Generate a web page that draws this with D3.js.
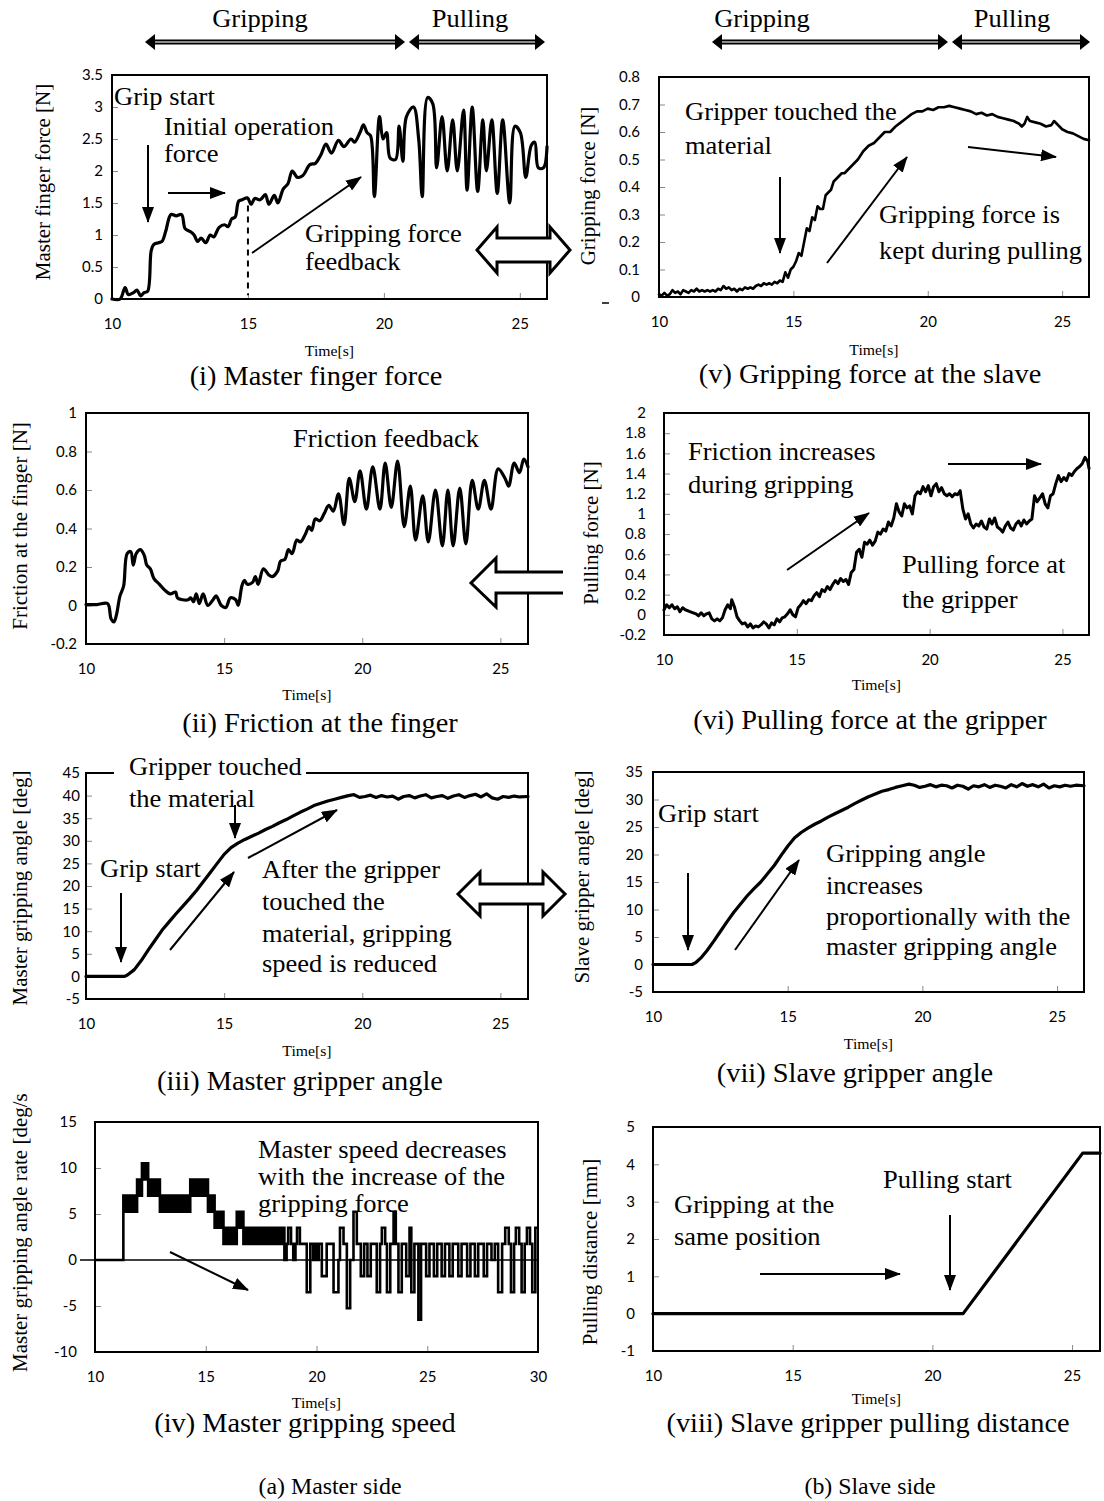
<!DOCTYPE html>
<html>
<head>
<meta charset="utf-8">
<script src="https://cdn.jsdelivr.net/npm/d3@7"></script>
<style>
  body { margin: 0; background: #fff; }
</style>
</head>
<body>
<svg id="fig" width="1104" height="1501"></svg>
<script>
// ---- data: [time s, value] ----
var fingerForce = [[10,0],[10.3,0],[10.48,0.18],[10.6,0.07],[10.79,0.1],[10.92,0.14],[11.05,0.05],[11.18,0.1],[11.31,0.12],[11.44,0.75],[11.53,0.85],[11.71,0.88],[11.84,0.9],[11.97,1.05],[12.17,1.32],[12.36,1.3],[12.56,1.32],[12.69,1.1],[12.89,1.05],[13.02,1.0],[13.15,0.9],[13.28,0.95],[13.45,0.88],[13.61,1.0],[13.74,0.97],[13.94,1.12],[14.14,1.16],[14.27,1.13],[14.4,1.25],[14.53,1.28],[14.66,1.53],[14.79,1.55],[14.98,1.58],[15.12,1.48],[15.25,1.57],[15.45,1.55],[15.64,1.63],[15.77,1.48],[15.97,1.62],[16.1,1.5],[16.3,1.72],[16.47,1.8],[16.63,2.0],[16.82,1.9],[17.02,1.93],[17.28,2.1],[17.48,2.12],[17.68,2.25],[17.87,2.42],[18.07,2.28],[18.33,2.48],[18.53,2.38],[18.79,2.5],[18.92,2.45],[19.12,2.6],[19.25,2.72],[19.38,2.6],[19.51,2.55],[19.65,1.6],[19.84,2.85],[19.97,2.5],[20.1,2.6],[20.23,2.2],[20.43,2.18],[20.56,2.7],[20.7,2.15],[20.83,2.85],[21.09,3.0],[21.28,2.5],[21.41,1.6],[21.61,3.15],[21.8,3.05],[21.94,2.05],[22.14,2.85],[22.33,2.0],[22.53,2.8],[22.7,2.0],[22.93,2.95],[23.06,1.7],[23.25,3.0],[23.45,1.68],[23.64,2.8],[23.77,2.0],[23.97,2.8],[24.17,1.65],[24.37,2.8],[24.63,1.5],[24.82,2.7],[25.02,2.6],[25.22,1.9],[25.42,2.4],[25.55,2.45],[25.68,2.05],[25.87,2.05],[26.0,2.38]];

var fingerFriction = [[10,0.005],[10.4,0.005],[10.78,0.01],[10.91,-0.07],[11.01,-0.085],[11.1,-0.05],[11.23,0.05],[11.36,0.1],[11.49,0.27],[11.62,0.28],[11.71,0.21],[11.82,0.27],[11.97,0.29],[12.11,0.26],[12.2,0.21],[12.33,0.19],[12.46,0.14],[12.66,0.11],[12.85,0.08],[13.05,0.06],[13.24,0.07],[13.31,0.04],[13.5,0.03],[13.7,0.03],[13.79,0.04],[13.89,0.02],[13.99,0.06],[14.1,0.01],[14.24,0.06],[14.41,0.0],[14.6,0.03],[14.71,0.05],[14.9,0.0],[15.06,-0.01],[15.23,0.04],[15.42,0.03],[15.51,0.0],[15.64,0.1],[15.73,0.13],[15.84,0.11],[16.03,0.12],[16.13,0.15],[16.23,0.11],[16.42,0.19],[16.61,0.16],[16.74,0.15],[16.94,0.18],[17.04,0.23],[17.2,0.24],[17.33,0.29],[17.46,0.27],[17.63,0.34],[17.76,0.33],[17.94,0.37],[18.07,0.41],[18.17,0.39],[18.3,0.45],[18.46,0.44],[18.63,0.48],[18.79,0.52],[18.95,0.49],[19.14,0.58],[19.34,0.42],[19.53,0.66],[19.73,0.54],[19.92,0.7],[20.15,0.5],[20.38,0.72],[20.64,0.5],[20.83,0.74],[21.05,0.51],[21.28,0.75],[21.52,0.41],[21.74,0.62],[21.93,0.34],[22.19,0.57],[22.39,0.33],[22.65,0.6],[22.9,0.31],[23.1,0.6],[23.29,0.31],[23.53,0.61],[23.75,0.32],[23.98,0.65],[24.2,0.5],[24.42,0.65],[24.66,0.5],[24.92,0.71],[25.17,0.66],[25.3,0.62],[25.5,0.74],[25.69,0.69],[25.85,0.76],[26.0,0.72]];

var masterAngle = [[10,0],[11.4,0],[11.5,0.3],[11.75,1.5],[12.0,3.5],[12.25,5.8],[12.5,8],[12.75,10.2],[13.0,12],[13.25,13.8],[13.5,15.5],[13.75,17.2],[14.0,19],[14.25,21],[14.5,23],[14.75,25],[15.0,27],[15.25,28.5],[15.5,29.5],[15.75,30.3],[16.0,31],[16.25,31.7],[16.5,32.5],[16.75,33.2],[17.0,34],[17.25,34.7],[17.5,35.5],[17.75,36.3],[18.0,37],[18.25,37.8],[18.5,38.3],[18.75,38.8],[19.0,39.2],[19.25,39.6],[19.5,40],[19.7,40.2],[19.9,39.6],[20.1,39.8],[20.3,40.1],[20.5,39.6],[20.7,40.0],[20.9,39.7],[21.1,39.9],[21.3,39.2],[21.5,39.8],[21.7,40.0],[21.9,39.5],[22.1,39.9],[22.3,40.2],[22.5,39.5],[22.7,39.8],[22.9,40.0],[23.1,39.4],[23.3,39.9],[23.5,40.2],[23.7,39.6],[23.9,40.0],[24.1,40.3],[24.3,39.7],[24.5,40.4],[24.7,39.5],[24.9,39.2],[25.1,39.8],[25.3,39.6],[25.5,39.9],[25.7,39.7],[26.0,39.8]];

// master gripping speed: [time, low, high] steps (low < high where the trace is a dense band)
var masterRate = [[10,0,0],[11.28,5.25,7.0],[11.9,7.0,8.75],[12.12,8.75,10.5],[12.4,7.0,8.75],[12.93,5.25,7.0],[14.3,7.0,8.75],[15.1,5.25,7.0],[15.4,3.5,5.25],[15.8,1.75,3.5],[16.4,3.5,5.25],[16.7,1.75,3.5],[18.55,0,0],[18.65,1.75,1.75],[18.72,3.5,3.5],[18.85,1.75,1.75],[18.95,0,0],[19.05,1.75,1.75],[19.12,3.5,3.5],[19.25,1.75,1.75],[19.56,-3.5,-3.5],[19.72,1.75,1.75],[19.85,0,1.75],[20.1,1.75,1.75],[20.24,-1.75,-1.75],[20.46,1.75,1.75],[20.77,-3.5,-3.5],[20.99,0,0],[21.06,3.5,3.5],[21.22,1.75,1.75],[21.37,-5.25,-5.25],[21.52,0,0],[21.67,5.25,5.25],[21.82,1.75,1.75],[22.0,-1.75,-1.75],[22.15,1.75,1.75],[22.3,-1.75,-1.75],[22.45,1.75,1.75],[22.72,-3.5,-3.5],[22.87,1.75,1.75],[22.95,3.5,3.5],[23.1,1.75,1.75],[23.18,-3.5,-3.5],[23.33,1.75,1.75],[23.48,5.25,5.25],[23.58,1.75,1.75],[23.7,-3.5,-3.5],[23.85,1.75,1.75],[24.05,-1.75,-1.75],[24.2,3.5,3.5],[24.28,-3.5,-3.5],[24.42,1.75,1.75],[24.6,-6.5,-6.5],[24.72,1.75,1.75],[24.95,-1.75,-1.75],[25.1,1.75,1.75],[25.3,-1.75,-1.75],[25.45,1.75,1.75],[25.65,-1.75,-1.75],[25.8,1.75,1.75],[26.0,-1.75,-1.75],[26.15,1.75,1.75],[26.4,-1.75,-1.75],[26.55,1.75,1.75],[26.8,-1.75,-1.75],[26.95,1.75,1.75],[27.15,-1.75,-1.75],[27.3,1.75,1.75],[27.55,-1.75,-1.75],[27.7,1.75,1.75],[27.9,0,0],[28.05,1.75,1.75],[28.2,-3.5,-3.5],[28.38,1.75,1.75],[28.52,3.5,3.5],[28.68,1.75,1.75],[28.78,-3.5,-3.5],[28.92,1.75,1.75],[29.0,3.5,3.5],[29.15,1.75,1.75],[29.26,-3.5,-3.5],[29.4,1.75,1.75],[29.5,3.5,3.5],[29.64,1.75,1.75],[29.74,-3.5,-3.5],[29.88,3.5,3.5],[30,3.5,3.5]];

var gripForce = [[10,0.01],[10.1,0.005],[10.2,0.015],[10.3,0.005],[10.4,0.01],[10.5,0.025],[10.6,0.015],[10.7,0.02],[10.8,0.01],[10.9,0.025],[11.0,0.02],[11.1,0.015],[11.2,0.025],[11.3,0.02],[11.4,0.03],[11.5,0.02],[11.6,0.025],[11.7,0.02],[11.8,0.025],[11.9,0.02],[12.0,0.025],[12.1,0.02],[12.2,0.03],[12.3,0.025],[12.4,0.04],[12.5,0.03],[12.6,0.035],[12.7,0.025],[12.8,0.03],[12.9,0.02],[13.0,0.03],[13.1,0.025],[13.2,0.035],[13.3,0.03],[13.4,0.035],[13.5,0.03],[13.6,0.04],[13.7,0.045],[13.8,0.04],[13.9,0.05],[14.0,0.045],[14.1,0.05],[14.2,0.045],[14.3,0.055],[14.4,0.05],[14.5,0.06],[14.6,0.055],[14.7,0.09],[14.8,0.07],[14.9,0.1],[15.0,0.11],[15.1,0.13],[15.2,0.16],[15.3,0.15],[15.4,0.2],[15.5,0.25],[15.6,0.24],[15.7,0.29],[15.8,0.28],[15.9,0.33],[16.0,0.32],[16.1,0.32],[16.2,0.37],[16.3,0.38],[16.4,0.39],[16.5,0.42],[16.6,0.43],[16.7,0.44],[16.8,0.45],[16.9,0.45],[17.0,0.46],[17.2,0.48],[17.4,0.5],[17.6,0.53],[17.8,0.55],[18.0,0.56],[18.2,0.58],[18.4,0.6],[18.6,0.6],[18.8,0.62],[19.0,0.635],[19.2,0.65],[19.4,0.665],[19.6,0.675],[19.8,0.675],[20.0,0.685],[20.2,0.68],[20.4,0.69],[20.6,0.69],[20.8,0.695],[21.0,0.69],[21.2,0.685],[21.4,0.68],[21.6,0.675],[21.8,0.665],[22.0,0.67],[22.2,0.66],[22.4,0.665],[22.6,0.655],[22.8,0.65],[23.0,0.645],[23.2,0.64],[23.4,0.63],[23.5,0.62],[23.6,0.63],[23.7,0.655],[23.8,0.64],[24.0,0.635],[24.2,0.63],[24.4,0.62],[24.6,0.625],[24.7,0.64],[24.8,0.63],[25.0,0.61],[25.2,0.6],[25.4,0.595],[25.6,0.585],[25.8,0.575],[26.0,0.57]];

var pullForce = [[10.0,0.05],[10.1,0.1],[10.2,0.07],[10.3,0.1],[10.4,0.06],[10.5,0.08],[10.6,0.03],[10.7,0.07],[10.8,0.05],[11.0,0.03],[11.2,0.01],[11.3,-0.01],[11.4,0.02],[11.5,-0.01],[11.6,0.01],[11.7,0.02],[11.8,-0.04],[11.9,-0.06],[12.0,-0.04],[12.1,-0.06],[12.2,-0.03],[12.3,0.05],[12.4,0.1],[12.5,0.06],[12.55,0.15],[12.65,0.08],[12.75,-0.02],[12.85,-0.06],[12.95,-0.09],[13.05,-0.08],[13.15,-0.12],[13.25,-0.09],[13.35,-0.13],[13.45,-0.11],[13.55,-0.12],[13.65,-0.1],[13.75,-0.07],[13.85,-0.09],[13.95,-0.13],[14.05,-0.08],[14.15,-0.1],[14.25,-0.04],[14.35,-0.07],[14.45,-0.03],[14.55,-0.02],[14.65,0.01],[14.75,0.05],[14.85,0.0],[14.95,-0.02],[15.05,0.07],[15.15,0.1],[15.25,0.14],[15.35,0.11],[15.45,0.15],[15.55,0.14],[15.65,0.19],[15.75,0.22],[15.85,0.18],[15.95,0.25],[16.05,0.23],[16.15,0.28],[16.25,0.25],[16.35,0.3],[16.45,0.34],[16.55,0.31],[16.65,0.36],[16.75,0.33],[16.85,0.35],[16.95,0.3],[17.05,0.42],[17.15,0.45],[17.25,0.62],[17.35,0.65],[17.45,0.57],[17.55,0.72],[17.65,0.7],[17.75,0.74],[17.85,0.69],[17.95,0.73],[18.05,0.82],[18.15,0.8],[18.25,0.85],[18.35,0.83],[18.45,0.92],[18.55,0.88],[18.65,0.96],[18.75,1.1],[18.85,1.02],[18.95,0.98],[19.05,1.1],[19.15,1.06],[19.25,1.08],[19.35,1.0],[19.45,1.18],[19.55,1.22],[19.65,1.2],[19.75,1.27],[19.85,1.22],[19.95,1.28],[20.05,1.18],[20.15,1.27],[20.25,1.3],[20.35,1.22],[20.45,1.26],[20.55,1.2],[20.65,1.18],[20.75,1.2],[20.85,1.17],[20.95,1.2],[21.05,1.19],[21.15,1.23],[21.25,1.05],[21.35,0.95],[21.45,1.0],[21.55,0.9],[21.65,0.86],[21.75,0.9],[21.85,0.88],[21.95,0.93],[22.05,0.87],[22.15,0.85],[22.25,0.95],[22.35,0.9],[22.45,0.96],[22.55,0.87],[22.65,0.85],[22.75,0.82],[22.85,0.88],[22.95,0.92],[23.05,0.86],[23.15,0.84],[23.25,0.9],[23.35,0.93],[23.45,0.88],[23.55,0.94],[23.65,0.9],[23.75,0.93],[23.85,0.95],[23.95,1.18],[24.05,1.12],[24.15,1.16],[24.25,1.2],[24.35,1.1],[24.45,1.06],[24.55,1.18],[24.65,1.2],[24.75,1.3],[24.85,1.38],[24.95,1.32],[25.05,1.36],[25.15,1.33],[25.25,1.4],[25.35,1.38],[25.45,1.42],[25.55,1.45],[25.65,1.47],[25.75,1.5],[25.85,1.56],[25.95,1.52],[26.0,1.45]];

var slaveAngle = [[10,0],[11.45,0],[11.6,0.4],[11.8,1.3],[12.0,2.5],[12.25,4.2],[12.5,6],[12.75,7.8],[13.0,9.5],[13.25,11],[13.5,12.5],[13.75,13.8],[14.0,15],[14.25,16.5],[14.5,18],[14.75,19.8],[15.0,21.5],[15.25,23],[15.5,24],[15.75,24.8],[16.0,25.5],[16.25,26.1],[16.5,26.8],[16.75,27.4],[17.0,28],[17.25,28.6],[17.5,29.3],[17.75,29.9],[18.0,30.5],[18.25,31],[18.5,31.5],[18.75,31.8],[19.0,32.2],[19.25,32.5],[19.5,32.8],[19.7,32.6],[19.9,32.2],[20.1,32.4],[20.3,32.7],[20.5,32.3],[20.7,32.6],[20.9,32.5],[21.1,32.1],[21.3,32.6],[21.5,32.4],[21.7,31.9],[21.9,32.5],[22.1,32.3],[22.3,32.7],[22.5,32.2],[22.7,32.6],[22.9,32.4],[23.1,32.1],[23.3,32.7],[23.5,32.3],[23.7,32.9],[23.9,32.4],[24.1,32.7],[24.3,32.3],[24.5,32.8],[24.7,32.1],[24.9,32.5],[25.1,32.3],[25.3,32.6],[25.5,32.4],[25.7,32.6],[26.0,32.5]];

var pullDistance = [[10,0],[21.1,0],[25.38,4.3],[26,4.3]];

// ---- tick values ----
var timeTicks = [10, 15, 20, 25];
var timeTicksLong = [10, 15, 20, 25, 30];
var fingerForceTicks = d3.range(0, 3.51, 0.5);
var frictionTicks = d3.range(-0.2, 1.01, 0.2);
var masterAngleTicks = d3.range(-5, 45.1, 5);
var masterRateTicks = d3.range(-10, 15.1, 5);
var gripForceTicks = d3.range(0, 0.801, 0.1);
var pullForceTicks = d3.range(-0.2, 2.01, 0.2);
var slaveAngleTicks = d3.range(-5, 35.1, 5);
var distanceTicks = d3.range(-1, 5.1, 1);

var svg = d3.select("#fig");
var serif = "'Liberation Serif','Times New Roman',serif";
var sans = "Lato,'Open Sans',sans-serif";
var fmt = function(d) { return String(+d.toFixed(2)); };

svg.append("rect").attr("width", 1104).attr("height", 1501).attr("fill", "#fff");

var defs = svg.append("defs");
defs.append("marker").attr("id", "head")
  .attr("viewBox", "0 -6 16 12").attr("refX", 15).attr("refY", 0)
  .attr("markerWidth", 16).attr("markerHeight", 12)
  .attr("markerUnits", "userSpaceOnUse").attr("orient", "auto")
  .append("path").attr("d", "M0,-6L16,0L0,6Z").attr("fill", "#000");
defs.append("clipPath").attr("id", "rateClip")
  .append("rect").attr("x", 0).attr("y", 1093).attr("width", 60).attr("height", 300);

// text is slightly stretched sideways in the source figure
function label(x, y, str, size, anchor, sx) {
  return svg.append("text")
    .attr("transform", "translate(" + x + "," + y + ") scale(" + (sx || 1.06) + ",1)")
    .attr("text-anchor", anchor || "start")
    .attr("font-family", serif).attr("font-size", size || 25)
    .attr("fill", "#000").text(str);
}

var panels = [
  {data: fingerForce, l: 112, r: 547, t: 75, b: 299, xd: [10, 26], xt: timeTicks, yd: [0, 3.5], yt: fingerForceTicks,
   gap: 9, curve: d3.curveCatmullRom, sw: 3.2, title: "Master finger force [N]", tx: 43, ty: 182,
   timeY: 356, cap: "(i) Master finger force", capX: 316, capY: 385},
  {data: gripForce, l: 659, r: 1089, t: 77, b: 297, xd: [10, 26], xt: timeTicks, yd: [0, 0.8], yt: gripForceTicks,
   gap: 19, curve: d3.curveLinear, sw: 2.6, title: "Gripping force [N]", tx: 588, ty: 186,
   timeY: 355, cap: "(v) Gripping force at the slave", capX: 870, capY: 383},
  {data: fingerFriction, l: 86, r: 528, t: 413, b: 644, xd: [10, 26], xt: timeTicks, yd: [-0.2, 1], yt: frictionTicks,
   gap: 9, curve: d3.curveCatmullRom, sw: 3.2, title: "Friction at the finger [N]", tx: 20, ty: 526,
   timeY: 700, cap: "(ii) Friction at the finger", capX: 320, capY: 732},
  {data: pullForce, l: 664, r: 1089, t: 413, b: 635, xd: [10, 26], xt: timeTicks, yd: [-0.2, 2], yt: pullForceTicks,
   gap: 18, curve: d3.curveLinear, sw: 3, title: "Pulling force [N]", tx: 591, ty: 533,
   timeY: 690, cap: "(vi) Pulling force at the gripper", capX: 870, capY: 729},
  {data: masterAngle, l: 86, r: 528, t: 773, b: 999, xd: [10, 26], xt: timeTicks, yd: [-5, 45], yt: masterAngleTicks,
   gap: 6, curve: d3.curveLinear, sw: 3.2, title: "Master gripping angle [deg]", tx: 20, ty: 888,
   timeY: 1056, cap: "(iii) Master gripper angle", capX: 300, capY: 1090},
  {data: slaveAngle, l: 653, r: 1084, t: 772, b: 992, xd: [10, 26], xt: timeTicks, yd: [-5, 35], yt: slaveAngleTicks,
   gap: 10, curve: d3.curveLinear, sw: 3.2, title: "Slave gripper angle [deg]", tx: 582, ty: 877,
   timeY: 1049, cap: "(vii) Slave gripper angle", capX: 855, capY: 1082},
  {steps: masterRate, l: 95, r: 538, t: 1122, b: 1352, xd: [10, 30], xt: timeTicksLong, yd: [-10, 15], yt: masterRateTicks,
   gap: 18, sw: 2.6, title: "Master gripping angle rate [deg/s]", tx: 20, ty: 1372, clip: true,
   timeY: 1408, cap: "(iv) Master gripping speed", capX: 305, capY: 1432},
  {data: pullDistance, l: 653, r: 1100, t: 1127, b: 1351, xd: [10, 26], xt: timeTicks, yd: [-1, 5], yt: distanceTicks,
   gap: 18, curve: d3.curveLinear, sw: 3.2, title: "Pulling distance [mm]", tx: 590, ty: 1252,
   timeY: 1404, cap: "(viii) Slave gripper pulling distance", capX: 868, capY: 1432}
];

panels.forEach(function(p) {
  var x = d3.scaleLinear().domain(p.xd).range([p.l, p.r]);
  var y = d3.scaleLinear().domain(p.yd).range([p.b, p.t]);
  var g = svg.append("g");

  // Excel-style short inside ticks
  g.append("g").attr("transform", "translate(" + p.l + ",0)")
    .call(d3.axisLeft(y).tickValues(p.yt).tickSize(-6).tickPadding(p.gap).tickFormat(fmt));
  g.append("g").attr("transform", "translate(0," + p.b + ")")
    .call(d3.axisBottom(x).tickValues(p.xt).tickSize(-6).tickPadding(19).tickFormat(d3.format("d")));
  g.selectAll(".domain").remove();
  g.selectAll(".tick text").attr("font-family", sans).attr("font-size", 15).attr("fill", "#000");
  g.selectAll(".tick line").attr("stroke", "#888").attr("stroke-width", 1);

  if (p.steps) {
    // zero line of the rate plot runs past the left edge
    g.append("line").attr("x1", 80).attr("x2", p.r).attr("y1", y(0)).attr("y2", y(0))
      .attr("stroke", "#000").attr("stroke-width", 1.6);
    var band = d3.area().curve(d3.curveStepAfter)
      .x(function(d) { return x(d[0]); })
      .y0(function(d) { return y(d[1]); })
      .y1(function(d) { return y(d[2]); });
    g.append("path").datum(p.steps).attr("d", band)
      .attr("fill", "#000").attr("stroke", "#000").attr("stroke-width", p.sw);
  } else {
    var line = d3.line().curve(p.curve)
      .x(function(d) { return x(d[0]); })
      .y(function(d) { return y(d[1]); });
    g.append("path").datum(p.data).attr("d", line)
      .attr("fill", "none").attr("stroke", "#000").attr("stroke-width", p.sw)
      .attr("stroke-linejoin", "round").attr("stroke-linecap", "round");
  }

  g.append("rect").attr("x", p.l).attr("y", p.t).attr("width", p.r - p.l).attr("height", p.b - p.t)
    .attr("fill", "none").attr("stroke", "#000").attr("stroke-width", 2);

  var holder = p.clip ? svg.append("g").attr("clip-path", "url(#rateClip)") : svg;
  holder.append("text")
    .attr("font-family", serif).attr("font-size", 21).attr("fill", "#000")
    .attr("dy", "0.35em")
    .attr("transform", "translate(" + p.tx + "," + p.ty + ") rotate(-90)")
    .attr("text-anchor", p.clip ? "start" : "middle")
    .text(p.title);

  label((p.l + p.r) / 2, p.timeY, "Time[s]", 15, "middle", 1.05);
  label(p.capX, p.capY, p.cap, 26.5, "middle", 1.07);

  if (p.data === fingerForce) {
    // dashed marker where the initial operation force ends
    g.append("line").attr("x1", x(15)).attr("x2", x(15)).attr("y1", y(1.46)).attr("y2", y(0.06))
      .attr("stroke", "#000").attr("stroke-width", 2).attr("stroke-dasharray", "6,5");
  }
});

// ---- annotation layout (pixels) ----
var notes = [
  [114, 105, "Grip start"], [164, 135, "Initial operation"], [164, 162, "force"],
  [305, 242, "Gripping force"], [305, 270, "feedback"],
  [685, 120, "Gripper touched the"], [685, 154, "material"],
  [879, 223, "Gripping force is"], [879, 259, "kept during pulling"],
  [293, 447, "Friction feedback"],
  [688, 460, "Friction increases"], [688, 493, "during gripping"],
  [902, 573, "Pulling force at"], [902, 608, "the gripper"],
  [129, 775, "Gripper touched"], [129, 807, "the material"], [100, 877, "Grip start"],
  [262, 878, "After the gripper"], [262, 910, "touched the"], [262, 942, "material, gripping"], [262, 972, "speed is reduced"],
  [658, 822, "Grip start"], [826, 862, "Gripping angle"], [826, 894, "increases"],
  [826, 925, "proportionally with the"], [826, 955, "master gripping angle"],
  [258, 1158, "Master speed decreases"], [258, 1185, "with the increase of the"], [258, 1212, "gripping force"],
  [883, 1188, "Pulling start"], [674, 1213, "Gripping at the"], [674, 1245, "same position"]
];
var pointers = [
  [148, 145, 148, 222], [168, 193, 225, 193], [252, 253, 361, 177],
  [780, 177, 780, 253], [827, 263, 907, 157], [968, 147, 1056, 157],
  [787, 570, 869, 513], [948, 464, 1041, 464],
  [235, 805, 235, 838], [121, 893, 121, 962], [170, 950, 234, 872], [248, 858, 337, 810],
  [688, 873, 688, 950], [735, 950, 799, 860],
  [170, 1252, 248, 1290],
  [950, 1215, 950, 1290], [760, 1274, 900, 1274]
];

// white box behind the label that sits on the top border of (iii)
svg.append("rect").attr("x", 114).attr("y", 758).attr("width", 192).attr("height", 24).attr("fill", "#fff");

notes.forEach(function(n) { label(n[0], n[1], n[2]); });
pointers.forEach(function(a) {
  svg.append("line").attr("x1", a[0]).attr("y1", a[1]).attr("x2", a[2]).attr("y2", a[3])
    .attr("stroke", "#000").attr("stroke-width", 2).attr("marker-end", "url(#head)");
});

// hollow block arrows between master and slave columns
var hollow = [
  "M477,250L497,227L497,238L550,238L550,227L570,250L550,273L550,262L497,262L497,273Z",
  "M458,894L480,872L480,884L543,884L543,872L565,894L543,916L543,904L480,904L480,916Z",
  "M563,572L496,572L496,558L471,583L496,607L496,593L563,593"
];
hollow.forEach(function(d) {
  svg.append("path").attr("d", d).attr("fill", "#fff").attr("stroke", "#000")
    .attr("stroke-width", 3).attr("stroke-linejoin", "miter");
});
svg.append("line").attr("x1", 602).attr("x2", 609).attr("y1", 303).attr("y2", 303)
  .attr("stroke", "#000").attr("stroke-width", 1.5);

// phase headers
var phases = [["Gripping", 260, 145, 405], ["Pulling", 470, 409, 545],
              ["Gripping", 762, 712, 948], ["Pulling", 1012, 952, 1090]];
phases.forEach(function(ph) {
  var y = 42, x1 = ph[2], x2 = ph[3];
  label(ph[1], 27, ph[0], 25, "middle");
  svg.append("line").attr("x1", x1 + 6).attr("x2", x2 - 6).attr("y1", y).attr("y2", y)
    .attr("stroke", "#000").attr("stroke-width", 5);
  svg.append("line").attr("x1", x1 + 9).attr("x2", x2 - 9).attr("y1", y).attr("y2", y)
    .attr("stroke", "#bbb").attr("stroke-width", 1.4);
  svg.append("path").attr("d", "M" + x1 + "," + y + "L" + (x1 + 10) + "," + (y - 8) + "L" + (x1 + 10) + "," + (y + 8) + "Z");
  svg.append("path").attr("d", "M" + x2 + "," + y + "L" + (x2 - 10) + "," + (y - 8) + "L" + (x2 - 10) + "," + (y + 8) + "Z");
});

label(330, 1494, "(a) Master side", 22.5, "middle");
label(870, 1494, "(b) Slave side", 22.5, "middle");
</script>
</body>
</html>
